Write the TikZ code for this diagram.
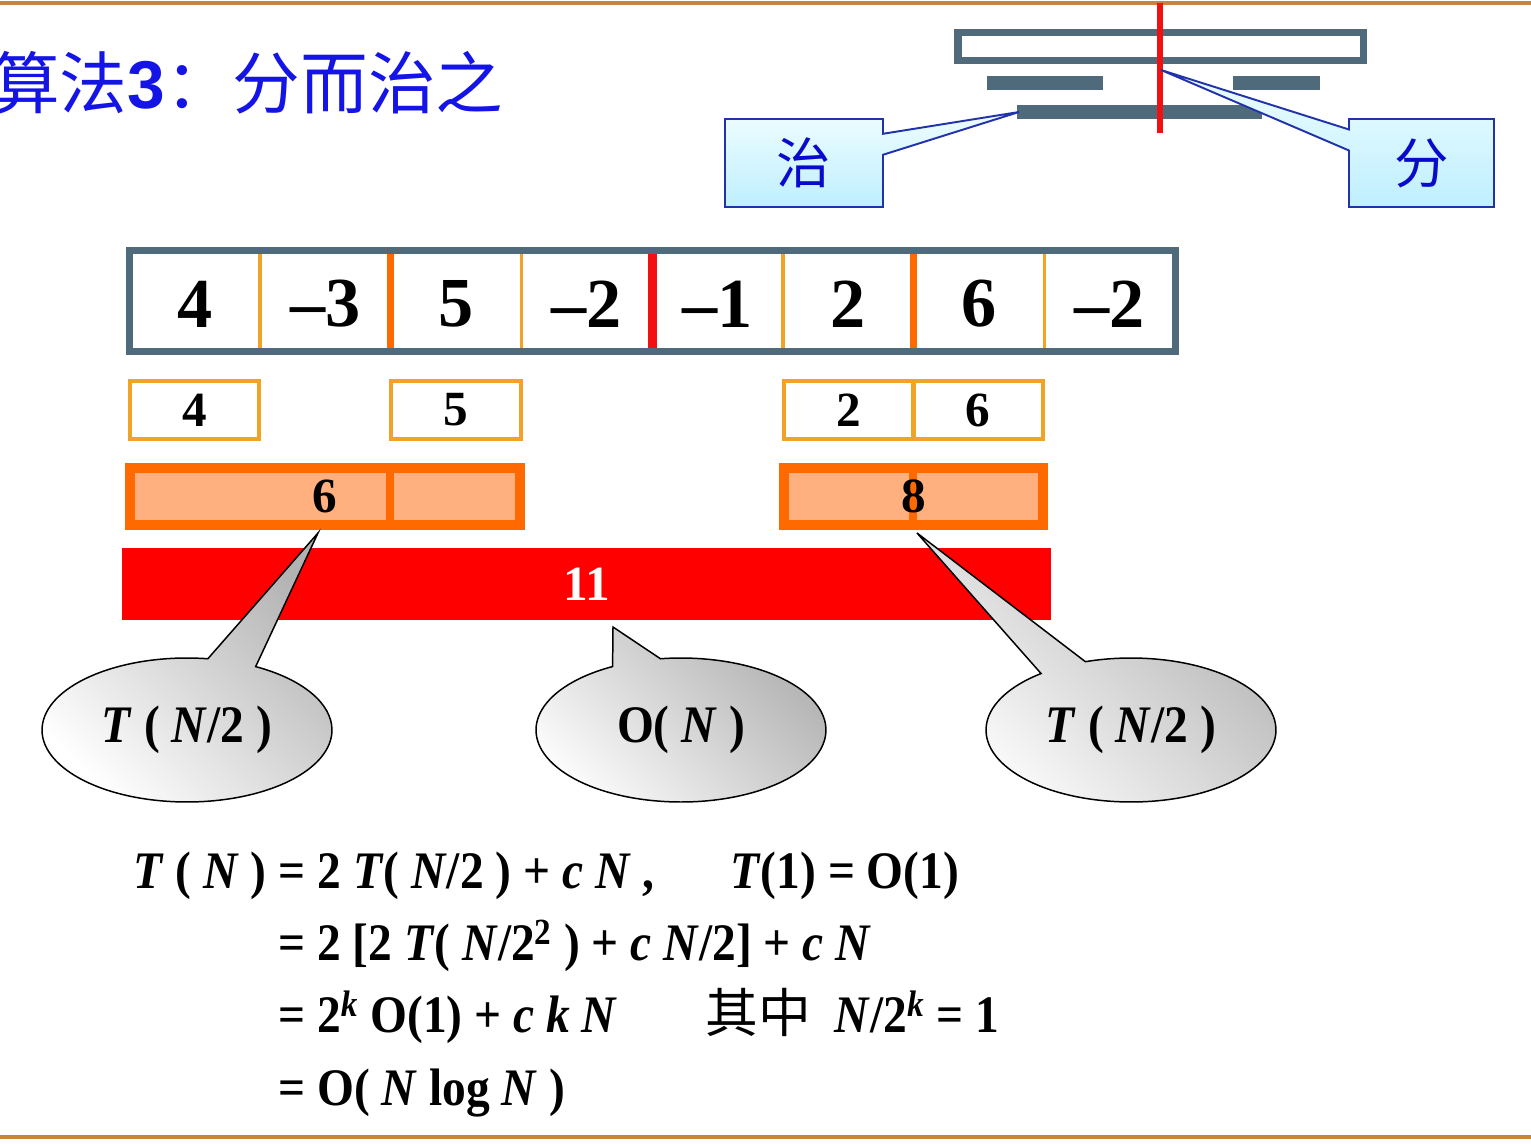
\documentclass[tikz,border=0pt]{standalone}
\usepackage{fontspec}
\setmainfont{Liberation Serif}
\newfontfamily\cjk{Noto Sans CJK SC}
\newfontfamily\arialfont{Liberation Sans}
\newfontfamily\eqfont[FakeStretch=0.9]{Liberation Serif}
\usepackage{xcolor}
\definecolor{rulebrown}{HTML}{C8843A}
\definecolor{slate}{HTML}{4F6A7B}
\definecolor{titleblue}{HTML}{1414E6}
\definecolor{tagblue}{HTML}{2233AA}
\definecolor{zhblue}{HTML}{0A0ACC}
\definecolor{tagtop}{HTML}{EEFDFF}
\definecolor{tagbottom}{HTML}{BFEFFF}
\definecolor{paleorange}{HTML}{F2A225}
\definecolor{deeporange}{HTML}{FF6A00}
\definecolor{peach}{HTML}{FFB07E}
\definecolor{cutred}{HTML}{F21010}
\usetikzlibrary{shapes.callouts}
\newcommand{\iv}[1]{\textit{#1}}
\tikzset{
  rule/.style={rulebrown, line width=2.3pt},
  title/.style={anchor=west, inner sep=0pt, text=titleblue, font=\fontsize{38.5}{44}\selectfont},
  tag/.style={rectangle callout, draw=tagblue, line width=1.1pt, top color=tagtop, bottom color=tagbottom,
    minimum height=1.76cm, callout pointer width=0.42cm, text=zhblue, font=\cjk\fontsize{31}{36}\selectfont},
  cellnum/.style={inner sep=0pt, font=\fontsize{40}{48}\selectfont\bfseries},
  thinsplit/.style={paleorange, line width=2pt},
  thicksplit/.style={deeporange, line width=4pt},
  midsplit/.style={cutred, line width=5pt},
  smallbox/.style={draw=paleorange, line width=2.3pt, minimum width=2.59cm, minimum height=1.16cm,
    inner sep=0pt, font=\fontsize{28}{32}\selectfont\bfseries},
  sumbox/.style={draw=deeporange, fill=peach, line width=5.7pt, minimum height=1.14cm, inner sep=0pt},
  sumsplit/.style={deeporange, line width=4.5pt},
  sumnum/.style={inner sep=0pt, font=\fontsize{28}{32}\selectfont\bfseries},
  redbar/.style={fill=red, minimum width=18.58cm, minimum height=1.44cm, inner sep=0pt, text=white,
    font=\fontsize{28}{32}\selectfont\bfseries},
  bubble/.style={ellipse callout, draw=black, line width=0.85pt, top color=black!30, bottom color=white,
    shading angle=-45, minimum width=5.8cm, minimum height=2.88cm, inner sep=0pt, callout pointer arc=20,
    font=\eqfont\fontsize{30}{36}\selectfont\bfseries},
  eq/.style={anchor=base west, inner sep=0pt, font=\eqfont\fontsize{30}{36}\selectfont\bfseries},
}
\begin{document}
\begin{tikzpicture}[x=0.02cm, y=-0.02cm]
  \useasboundingbox (0,0) rectangle (1531,1145);
  \draw[rule] (0,3) -- (1531,3);
  \draw[rule] (0,1137) -- (1531,1137);
  \node[title] (head) at (-8,83) {{\cjk 算法}{\arialfont\bfseries 3}{\cjk ：分而治之}};

  % divide / conquer sketch
  \draw[slate, line width=4pt] (958,32.5) rectangle (1363.5,60.5);
  \fill[slate] (987,76) rectangle (1103,90);
  \fill[slate] (1233,76) rectangle (1320,90);
  \fill[slate] (1017,105) rectangle (1262,119);
  \draw[cutred, line width=3.4pt] (1160,3) -- (1160,133);
  \coordinate (zhiTip) at (1019,112);
  \coordinate (fenTip) at (1161,70);
  \node[tag, minimum width=3.16cm, callout absolute pointer={(zhiTip)}] (zhi) at (804,163) {治};
  \node[tag, minimum width=2.9cm, callout absolute pointer={(fenTip)}] (fen) at (1421.5,163) {分};

  % the array
  \draw[slate, line width=4pt] (129.5,250.5) rectangle (1175,351.5);
  \draw[thinsplit] (260.2,254) -- (260.2,348);
  \draw[thicksplit] (390.9,254) -- (390.9,348);
  \draw[thinsplit] (521.6,254) -- (521.6,348);
  \draw[midsplit] (652.2,254) -- (652.2,348);
  \draw[thinsplit] (782.9,254) -- (782.9,348);
  \draw[thicksplit] (913.6,254) -- (913.6,348);
  \draw[thinsplit] (1044.3,254) -- (1044.3,348);
  \node[cellnum] (a1) at (194.8,304) {4};
  \node[cellnum] (a2) at (325.5,304) {–3};
  \node[cellnum] (a3) at (456.2,304) {5};
  \node[cellnum] (a4) at (586.9,304) {–2};
  \node[cellnum] (a5) at (717.6,304) {–1};
  \node[cellnum] (a6) at (848.3,304) {2};
  \node[cellnum] (a7) at (979.0,304) {6};
  \node[cellnum] (a8) at (1109.7,304) {–2};

  % best sums of the quarters
  \node[smallbox] (s4) at (194.5,410) {4};
  \node[smallbox] (s5) at (456,410) {5};
  \node[smallbox] (s2) at (848.75,410) {2};
  \node[smallbox] (s6) at (978.25,410) {6};

  % best sums of the halves
  \node[sumbox, minimum width=7.8cm] (sumL) at (325,496.5) {};
  \draw[sumsplit] (390,473) -- (390,520);
  \node[sumnum] (six) at (sumL) {6};
  \node[sumbox, minimum width=5.18cm] (sumR) at (913.5,496.5) {};
  \draw[sumsplit] (913,473) -- (913,520);
  \node[sumnum] (eight) at (sumR) {8};

  \node[redbar] (total) at (586.5,584) {11};

  % cost notes
  \coordinate (leftTip) at (318,533);
  \coordinate (midTip) at (613,627);
  \coordinate (rightTip) at (917,533);
  \node[bubble, callout absolute pointer={(leftTip)}] (costL) at (187,730) {\iv{T} ( \iv{N}/2 )};
  \node[bubble, callout absolute pointer={(midTip)}] (costM) at (681,730) {O( \iv{N} )};
  \node[bubble, callout absolute pointer={(rightTip)}] (costR) at (1131,730) {\iv{T} ( \iv{N}/2 )};

  % recurrence
  \node[eq] (eq1) at (133,888) {\iv{T} ( \iv{N} ) = 2 \iv{T}( \iv{N}/2 ) + \iv{c} \iv{N} ,};
  \node[eq] (eq1b) at (730,888) {\iv{T}(1) = O(1)};
  \node[eq] (eq2) at (278,960) {= 2 [2 \iv{T}( \iv{N}/2\textsuperscript{2} ) + \iv{c} \iv{N}/2] + \iv{c} \iv{N}};
  \node[eq] (eq3) at (278,1032) {= 2\textsuperscript{\iv{k}} O(1) + \iv{c} \iv{k} \iv{N}};
  \node[eq] (eq3b) at (705,1032) {{\mdseries\cjk 其中}\ \ \iv{N}/2\textsuperscript{\iv{k}} = 1};
  \node[eq] (eq4) at (278,1105) {= O( \iv{N} log \iv{N} )};
\end{tikzpicture}
\end{document}
